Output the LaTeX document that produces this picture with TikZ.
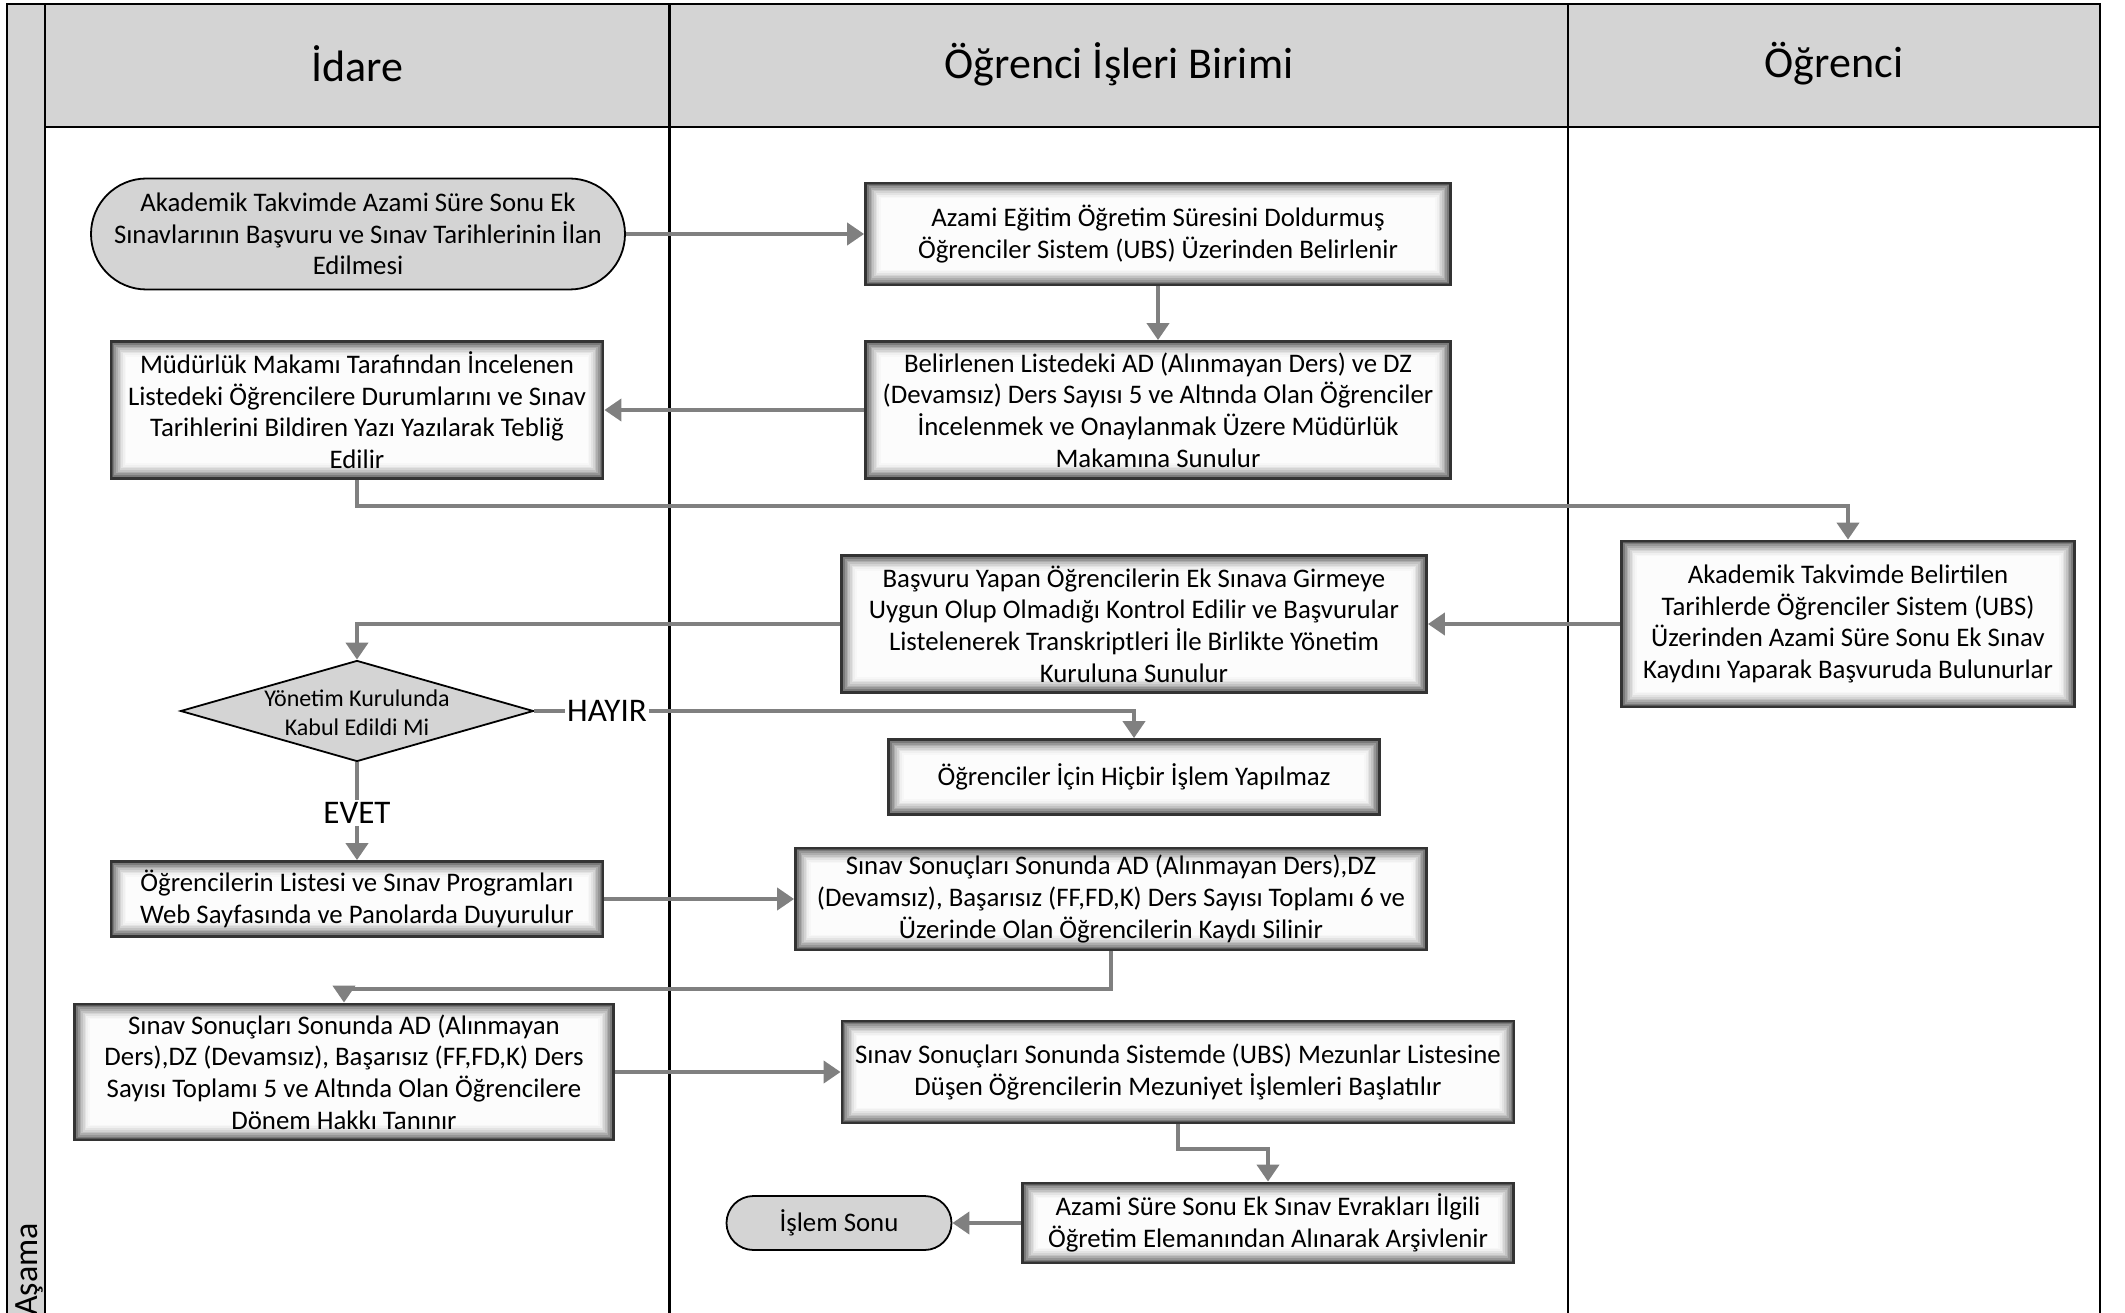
\documentclass[tikz,border=0pt]{standalone}
\usepackage{fontspec}
\setmainfont{Carlito}
\usetikzlibrary{arrows.meta,shapes.misc,shapes.geometric,calc}
\begin{document}
\begin{tikzpicture}[x=1pt,y=-1pt,
  laneline/.style={draw=black, line width=2.5pt},
  hdrfill/.style={fill=black!17},
  hdrtext/.style={font=\fontsize{44}{50}\selectfont, inner sep=0pt},
  glow/.style={path picture={
    \foreach \k/\c in {0/66,1/52,2/41,3/32,4/24,5/17,6/11,7/6,8/3,9/1}{
      \fill[black!\c] ([shift={(\k*1.7pt,\k*1.7pt)}]path picture bounding box.south west)
        rectangle ([shift={(-\k*1.7pt,-\k*1.7pt)}]path picture bounding box.north east);}}},
  procbox/.style={draw=black!80, line width=2.8pt, fill=white, glow, align=center,
    inner sep=0pt, font=\fontsize{26.8}{31.6}\selectfont},
  term/.style={rounded rectangle, draw=black, line width=1.8pt, fill=black!17,
    align=center, inner sep=0pt, font=\fontsize{26.8}{31.6}\selectfont},
  decbox/.style={diamond, draw=black, line width=1.8pt, fill=black!17,
    inner sep=0pt, font=\fontsize{24}{29}\selectfont},
  conn/.style={draw=black!50, line width=4pt, -{Triangle[width=22pt,length=17pt]}},
  connline/.style={draw=black!50, line width=4pt},
  lbl/.style={fill=white, inner sep=2pt, font=\fontsize{33}{38}\selectfont}
]
\useasboundingbox (0,0) rectangle (2125,1313);
\clip (0,0) rectangle (2125,1313);
% lanes
\fill[hdrfill] (7,4) rectangle (45,1340);
\fill[hdrfill] (45,4) rectangle (2100,127);
\draw[laneline] (7,1340) -- (7,4) -- (2100,4) -- (2100,1340);
\draw[laneline] (45,4) -- (45,1340);
\draw[laneline] (45,127) -- (2100,127);
\draw[laneline] (669.5,4) -- (669.5,1340);
\draw[laneline] (1568,4) -- (1568,1340);
\node[hdrtext] (h1) at (357,64) {İdare};
\node[hdrtext] (h2) at (1119,64) {Öğrenci İşleri Birimi};
\node[hdrtext] (h3) at (1834,64) {Öğrenci};
\node[rotate=90, anchor=base west, inner sep=0pt, font=\fontsize{34}{40}\selectfont] (asama) at (37,1316) {Aşama};

% nodes
\node[term, minimum width=534pt, minimum height=111pt] (t1) at (358,234)
  {Akademik Takvimde Azami Süre Sonu Ek\\Sınavlarının Başvuru ve Sınav Tarihlerinin İlan\\Edilmesi};
\node[procbox, minimum width=585pt, minimum height=102pt] (A) at (1158,234)
  {Azami Eğitim Öğretim Süresini Doldurmuş\\Öğrenciler Sistem (UBS) Üzerinden Belirlenir};
\node[procbox, minimum width=585pt, minimum height=137pt] (B) at (1158,410)
  {Belirlenen Listedeki AD (Alınmayan Ders) ve DZ\\(Devamsız) Ders Sayısı 5 ve Altında Olan Öğrenciler\\İncelenmek ve Onaylanmak Üzere Müdürlük\\Makamına Sunulur};
\node[procbox, minimum width=492pt, minimum height=137pt] (C) at (357,410)
  {Müdürlük Makamı Tarafından İncelenen\\Listedeki Öğrencilere Durumlarını ve Sınav\\Tarihlerini Bildiren Yazı Yazılarak Tebliğ\\Edilir};
\node[procbox, minimum width=453pt, minimum height=166pt] (D) at (1848,624)
  {Akademik Takvimde Belirtilen\\Tarihlerde Öğrenciler Sistem (UBS)\\Üzerinden Azami Süre Sonu Ek Sınav\\Kaydını Yaparak Başvuruda Bulunurlar};
\node[procbox, minimum width=585pt, minimum height=137pt] (E) at (1134,624)
  {Başvuru Yapan Öğrencilerin Ek Sınava Girmeye\\Uygun Olup Olmadığı Kontrol Edilir ve Başvurular\\Listelenerek Transkriptleri İle Birlikte Yönetim\\Kuruluna Sunulur};
\node[decbox, minimum width=353pt, minimum height=101pt] (dia) at (357,711)
  {\makebox[0pt]{\smash{\raisebox{-0.45em}{\begin{tabular}[c]{@{}c@{}}Yönetim Kurulunda\\Kabul Edildi Mi\end{tabular}}}}};
\node[procbox, minimum width=491pt, minimum height=75pt] (F) at (1134,777)
  {Öğrenciler İçin Hiçbir İşlem Yapılmaz};
\node[procbox, minimum width=492pt, minimum height=75pt] (G) at (357,899)
  {Öğrencilerin Listesi ve Sınav Programları\\Web Sayfasında ve Panolarda Duyurulur};
\node[procbox, minimum width=631pt, minimum height=102pt] (H) at (1111,899)
  {Sınav Sonuçları Sonunda AD (Alınmayan Ders),DZ\\(Devamsız), Başarısız (FF,FD,K) Ders Sayısı Toplamı 6 ve\\Üzerinde Olan Öğrencilerin Kaydı Silinir};
\node[procbox, minimum width=539pt, minimum height=136pt] (I) at (344,1072)
  {Sınav Sonuçları Sonunda AD (Alınmayan\\Ders),DZ (Devamsız), Başarısız (FF,FD,K) Ders\\Sayısı Toplamı 5 ve Altında Olan Öğrencilere\\Dönem Hakkı Tanınır};
\node[procbox, minimum width=672pt, minimum height=102pt] (J) at (1178,1072)
  {Sınav Sonuçları Sonunda Sistemde (UBS) Mezunlar Listesine\\Düşen Öğrencilerin Mezuniyet İşlemleri Başlatılır};
\node[procbox, minimum width=491pt, minimum height=80pt] (K) at (1268,1223)
  {Azami Süre Sonu Ek Sınav Evrakları İlgili\\Öğretim Elemanından Alınarak Arşivlenir};
\node[term, minimum width=225pt, minimum height=54pt] (t2) at (839,1223) {İşlem Sonu};
\node[lbl] (hayir) at (607,711) {HAYIR};
\node[lbl] (evet) at (357,813) {EVET};

% connectors
\draw[conn] (t1.east) -- (A.west);
\draw[conn] (A.south) -- (B.north);
\draw[conn] (B.west) -- (C.east);
\draw[conn] (C.south) -- ++(0,26) -| (D.north);
\draw[conn] (D.west) -- (E.east);
\draw[conn] (E.west) -| (dia.north);
\draw[connline] (dia.east) -- (hayir.west);
\draw[conn] (hayir.east) -| (F.north);
\draw[connline] (dia.south) -- (evet.north);
\draw[conn] (evet.south) -- (G.north);
\draw[conn] (G.east) -- (H.west);
\draw[conn] (H.south) -- ++(0,38) -| (I.north);
\draw[conn] (I.east) -- (J.west);
\draw[conn] (J.south) -- ++(0,25) -| (K.north);
\draw[conn] (K.west) -- (t2.east);
\end{tikzpicture}
\end{document}
